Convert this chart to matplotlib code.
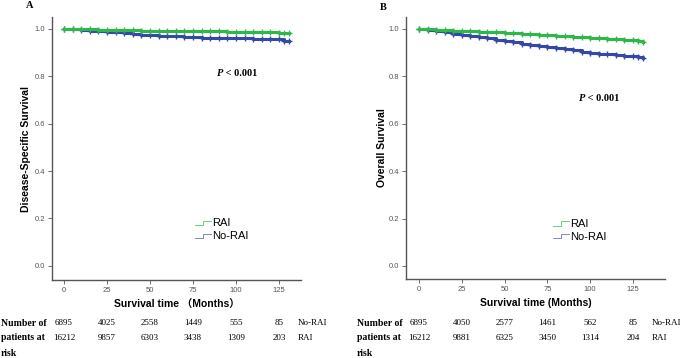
import matplotlib
matplotlib.use('Agg')
import matplotlib.pyplot as plt
import matplotlib.transforms as mtransforms
from matplotlib.legend_handler import HandlerBase
from matplotlib.lines import Line2D

# survival curves (months vs. estimated survival)
months = [0, 5, 10, 15, 20, 25, 30, 35, 40, 45, 50, 55, 60, 65, 70, 75, 80, 85,
          90, 95, 100, 105, 110, 115, 120, 125, 128, 131]
dss_rai = [1.000, 1.000, 0.999, 0.998, 0.997, 0.996, 0.995, 0.995, 0.994, 0.993,
           0.993, 0.992, 0.992, 0.991, 0.991, 0.990, 0.990, 0.989, 0.989, 0.988,
           0.988, 0.987, 0.986, 0.986, 0.985, 0.984, 0.983, 0.981]
dss_norai = [1.000, 0.998, 0.996, 0.993, 0.990, 0.988, 0.985, 0.981, 0.978, 0.976,
             0.974, 0.971, 0.969, 0.968, 0.966, 0.965, 0.963, 0.962, 0.961, 0.961,
             0.960, 0.960, 0.959, 0.959, 0.958, 0.957, 0.948, 0.947]
os_rai = [1.000, 0.999, 0.997, 0.995, 0.993, 0.992, 0.990, 0.988, 0.986, 0.985,
          0.983, 0.981, 0.979, 0.977, 0.975, 0.973, 0.971, 0.969, 0.967, 0.965,
          0.962, 0.960, 0.958, 0.956, 0.954, 0.951, 0.947, 0.943]
os_norai = [1.000, 0.995, 0.990, 0.985, 0.980, 0.975, 0.970, 0.965, 0.960, 0.954,
            0.948, 0.943, 0.938, 0.933, 0.928, 0.923, 0.918, 0.913, 0.909, 0.904,
            0.900, 0.896, 0.893, 0.890, 0.887, 0.884, 0.881, 0.878]

# numbers at risk
risk_months = [0, 25, 50, 75, 100, 125]
risk_a_norai = [6895, 4025, 2558, 1449, 555, 85]
risk_a_rai = [16212, 9857, 6303, 3438, 1309, 203]
risk_b_norai = [6895, 4050, 2577, 1461, 562, 85]
risk_b_rai = [16212, 9881, 6325, 3450, 1314, 204]

GREEN = '#2fb84a'
BLUE = '#3448a8'
AXC = '#555555'
SANS = ['Liberation Sans', 'Noto Sans CJK SC', 'DejaVu Sans']
SERIF = ['Liberation Serif', 'DejaVu Serif']


class StepHandler(HandlerBase):
    def create_artists(self, legend, orig_handle, xdescent, ydescent,
                       width, height, fontsize, trans):
        x0 = -xdescent
        xm = x0 + width * 0.5
        y0 = -ydescent + height * 0.15
        y1 = -ydescent + height * 0.7
        ln = Line2D([x0, xm, xm, x0 + width], [y0, y0, y1, y1],
                    color=orig_handle.get_color(), lw=0.7)
        ln.set_transform(trans)
        return [ln]


def draw_panel(fig, rect, xlim, ylim, rai, norai, ylabel, xlabel,
               ylab_x, pval_xy, leg_anchor, norai_risk, rai_risk, label_x):
    ax = fig.add_axes(rect)
    ax.step(months, rai, where='post', color=GREEN, lw=2.2,
            marker='+', markersize=5, markeredgewidth=1.0, zorder=3)
    ax.step(months, norai, where='post', color=BLUE, lw=2.2,
            marker='+', markersize=5, markeredgewidth=1.0, zorder=2)
    ax.set_xlim(*xlim)
    ax.set_ylim(*ylim)
    ax.set_xticks([0, 25, 50, 75, 100, 125])
    ax.set_yticks([0.0, 0.2, 0.4, 0.6, 0.8, 1.0])
    ax.set_yticklabels(['0.0', '0.2', '0.4', '0.6', '0.8', '1.0'])
    for s in ['top', 'right']:
        ax.spines[s].set_visible(False)
    for s in ['left', 'bottom']:
        ax.spines[s].set_color(AXC)
        ax.spines[s].set_linewidth(1.0)
    ax.tick_params(direction='out', length=3, width=0.6, color=AXC,
                   labelsize=5.5, labelcolor='#555555', pad=2)
    for lab in ax.get_xticklabels() + ax.get_yticklabels():
        lab.set_family(SANS)
    ax.set_xlabel(xlabel, fontsize=7.5, fontweight='bold', family=SANS, labelpad=4)
    ax.set_ylabel(ylabel, fontsize=7.5, fontweight='bold', family=SANS)
    ax.yaxis.set_label_coords(ylab_x, 0.5)

    p = ax.text(pval_xy[0], pval_xy[1], 'P', fontsize=7.5, fontweight='bold',
                fontstyle='italic', family=SERIF, va='center', ha='left')
    ax.annotate(' < 0.001', xy=(1, 0.5), xycoords=p, va='center', ha='left',
                fontsize=7.5, fontweight='bold', family=SERIF)

    h1 = Line2D([], [], color='#6fcf80')
    h2 = Line2D([], [], color='#7f88c4')
    ax.legend([h1, h2], ['RAI', 'No-RAI'], handler_map={Line2D: StepHandler()},
              loc='upper left', bbox_to_anchor=leg_anchor, frameon=False,
              prop={'family': SANS, 'size': 8}, handlelength=1.4,
              handletextpad=0.1, labelspacing=0.25, borderpad=0, borderaxespad=0)

    tr = mtransforms.blended_transform_factory(ax.transData, fig.transFigure)
    rows_y = [1 - 323 / 358, 1 - 338 / 358]
    for m, a, b in zip(risk_months, norai_risk, rai_risk):
        ax.text(m, rows_y[0], str(a), transform=tr, ha='center', va='center',
                fontsize=6.5, family=SERIF, clip_on=False)
        ax.text(m, rows_y[1], str(b), transform=tr, ha='center', va='center',
                fontsize=6.5, family=SERIF, clip_on=False)
    ax.text(136, rows_y[0], 'No-RAI', transform=tr, ha='left', va='center',
            fontsize=6.5, family=SERIF, clip_on=False)
    ax.text(136, rows_y[1], 'RAI', transform=tr, ha='left', va='center',
            fontsize=6.5, family=SERIF, clip_on=False)
    for txt, yy in zip(['Number of', 'patients at', 'risk'],
                       rows_y + [1 - 353 / 358]):
        fig.text(label_x, yy, txt, ha='left', va='center', fontsize=7,
                 fontweight='bold', family=SERIF)
    return ax


fig = plt.figure(figsize=(6.83, 3.58), dpi=100)

draw_panel(fig, [52 / 683, 78 / 358, 249 / 683, 263 / 358],
           (-7, 137.8), (-0.06, 1.05), dss_rai, dss_norai,
           'Disease-Specific Survival', 'Survival time \uff08Months\uff09',
           -0.085, (89, 0.813), (0.575, 0.235),
           risk_a_norai, risk_a_rai, 0.001)
draw_panel(fig, [406 / 683, 79 / 358, 259 / 683, 262 / 358],
           (-7.6, 143.7), (-0.055, 1.05), os_rai, os_norai,
           'Overall Survival', 'Survival time (Months)',
           -0.075, (93.5, 0.705), (0.568, 0.23),
           risk_b_norai, risk_b_rai, 357 / 683)

fig.text(30 / 683, 1 - 6 / 358, 'A', fontsize=7.5, fontweight='bold',
         family=SERIF, ha='center', va='center')
fig.text(383 / 683, 1 - 7 / 358, 'B', fontsize=7.5, fontweight='bold',
         family=SERIF, ha='center', va='center')

fig.savefig('out.png', dpi=100)
